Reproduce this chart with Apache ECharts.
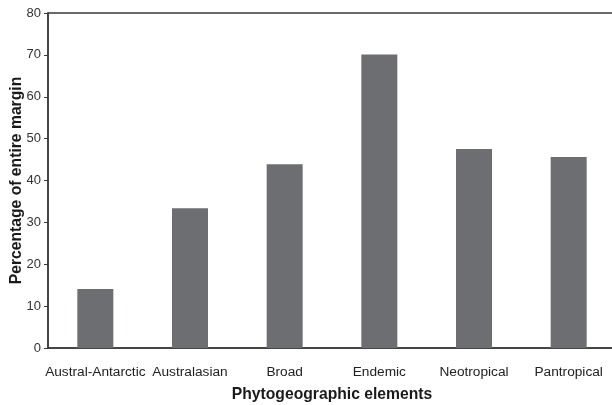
<!DOCTYPE html>
<html>
<head>
<meta charset="utf-8">
<script src="https://cdn.jsdelivr.net/npm/echarts@6/dist/echarts.min.js"></script>
<style>
  html, body { margin: 0; padding: 0; background: #fff; }
  #chart { width: 612px; height: 405px; }
</style>
</head>
<body>
<div id="chart"></div>
<script>
// Share of entire-margined species per phytogeographic element
const categories = ['Austral-Antarctic', 'Australasian', 'Broad', 'Endemic', 'Neotropical', 'Pantropical'];
const percentEntireMargin = [14.1, 33.4, 43.9, 70.1, 47.5, 45.6];
const yTicks = { min: 0, max: 80, step: 10 };

const chart = echarts.init(document.getElementById('chart'), null, { renderer: 'canvas' });

chart.setOption({
  animation: false,
  backgroundColor: '#ffffff',
  textStyle: { fontFamily: 'Liberation Sans, Arial, sans-serif' },
  grid: {
    left: 48, top: 13, width: 568, bottom: 57,
    outerBoundsMode: 'none', containLabel: false,
    show: true, borderColor: '#3a3a3a', borderWidth: 1.5, backgroundColor: 'transparent'
  },
  xAxis: {
    type: 'category',
    data: categories,
    name: 'Phytogeographic elements',
    nameLocation: 'middle',
    nameGap: 39,
    nameMoveOverlap: false,
    nameTextStyle: { fontSize: 15.7, fontWeight: 'bold', color: '#1a1a1a' },
    axisLine: { lineStyle: { color: '#3a3a3a', width: 1.5 } },
    axisTick: { show: false },
    axisLabel: { fontSize: 13.7, color: '#222', margin: 17, interval: 0, hideOverlap: false }
  },
  yAxis: {
    type: 'value',
    min: yTicks.min, max: yTicks.max, interval: yTicks.step,
    name: 'Percentage of entire margin',
    nameLocation: 'middle',
    nameGap: 23,
    nameMoveOverlap: false,
    nameTextStyle: { fontSize: 15.7, fontWeight: 'bold', color: '#1a1a1a' },
    axisLine: { show: true, lineStyle: { color: '#3a3a3a', width: 1.5 } },
    axisTick: { show: true, length: 4, lineStyle: { color: '#3a3a3a', width: 1 } },
    axisLabel: { fontSize: 13, color: '#333', margin: 7 },
    splitLine: { show: false }
  },
  series: [{
    type: 'bar',
    data: percentEntireMargin,
    barWidth: 36,
    itemStyle: { color: '#6d6e71' }
  }]
});
</script>
</body>
</html>
